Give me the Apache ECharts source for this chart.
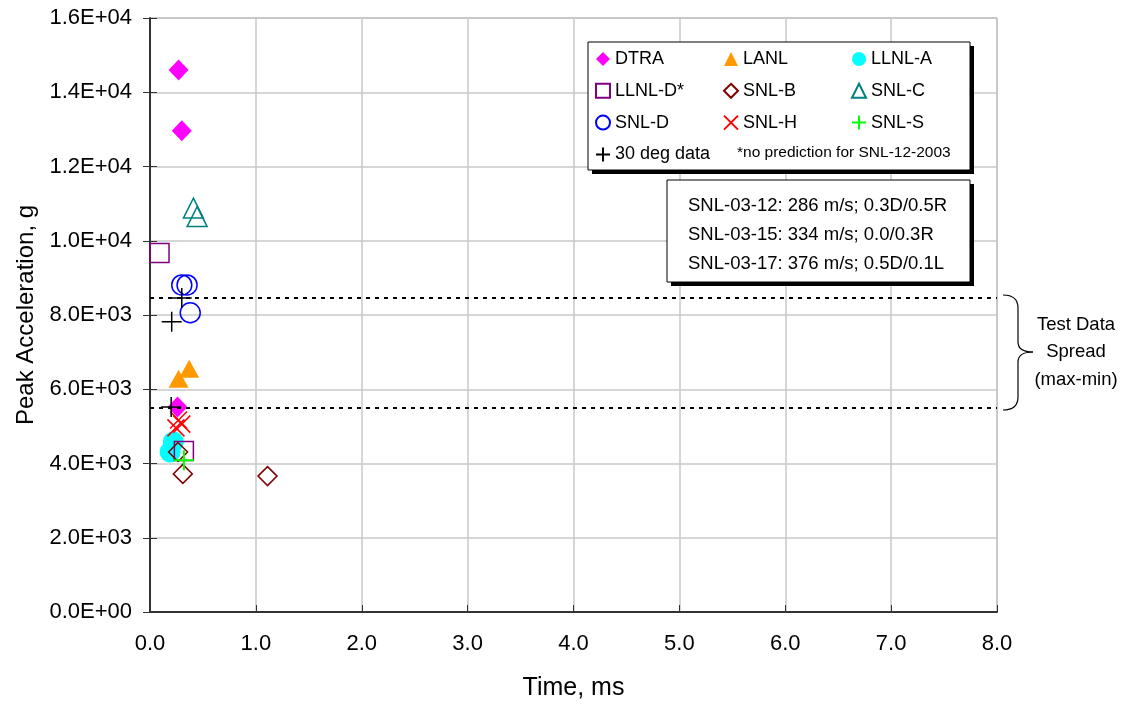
<!DOCTYPE html>
<html>
<head>
<meta charset="utf-8">
<script src="https://cdn.jsdelivr.net/npm/echarts@6/dist/echarts.min.js"></script>
<style>
  html, body { margin: 0; padding: 0; background: #fff; }
  #chart { width: 1122px; height: 704px; }
</style>
</head>
<body>
<div id="chart"></div>
<script>
// time (ms), peak acceleration (g)
const dtra = [[0.27, 14600], [0.30, 12960], [0.26, 5520]]
const lanl = [[0.27, 6280], [0.37, 6550]]
const llnlA = [[0.22, 4580], [0.19, 4310]]
const llnlD = [[0.09, 9670], [0.32, 4340]]
const snlB = [[0.265, 4310], [0.31, 3720], [1.11, 3660]]
const snlC = [[0.41, 10880], [0.445, 10650]]
const snlD = [[0.30, 8810], [0.35, 8810], [0.38, 8060]]
const snlH = [[0.27, 5170], [0.30, 5060], [0.245, 4960]]
const snlS = [[0.32, 4090]]
const deg30 = [[0.30, 8460], [0.205, 7820], [0.20, 5520]]
const spreadLines = [8470, 5510]

const infoLines = [
  'SNL-03-12: 286 m/s; 0.3D/0.5R',
  'SNL-03-15: 334 m/s; 0.0/0.3R',
  'SNL-03-17: 376 m/s; 0.5D/0.1L'
]
const spreadLabel = ['Test Data', 'Spread', '(max-min)']

const FONT = 'Liberation Sans, Arial, sans-serif'
const X_PATH = 'path://M0,0L10,10M10,0L0,10'
const PLUS_PATH = 'path://M5,0L5,10M0,5L10,5'

function filled(color) {
  return { color: color, borderWidth: 0, opacity: 1 }
}
function open(color, w) {
  return { color: 'transparent', borderColor: color, borderWidth: w || 1.5, opacity: 1 }
}

function expLabel(v) {
  if (v === 0) return '0.0E+00'
  const e = Math.floor(Math.log10(v) + 1e-9)
  const m = v / Math.pow(10, e)
  return m.toFixed(1) + 'E+' + String(e).padStart(2, '0')
}

const chart = echarts.init(document.getElementById('chart'))

const legendBase = {
  orient: 'vertical',
  top: 50,
  padding: 0,
  itemGap: 13.8,
  itemWidth: 14,
  itemHeight: 14,
  selectedMode: false,
  z: 10,
  textStyle: { fontFamily: FONT, fontSize: 18, color: '#000' }
}

const axisLineStyle = { color: '#333', width: 2 }
const braceStyle = { fill: 'none', stroke: '#000', lineWidth: 1.2 }

chart.setOption({
  animation: false,
  backgroundColor: '#fff',
  textStyle: { fontFamily: FONT },
  grid: {
    left: 150, right: 125, top: 18, bottom: 92,
    outerBoundsMode: 'none',
    containLabel: false,
    show: true, borderColor: '#8c8c8c', borderWidth: 1
  },
  legend: [
    Object.assign({}, legendBase, { left: 595, data: ['DTRA', 'LLNL-D*', 'SNL-D', '30 deg data'] }),
    Object.assign({}, legendBase, { left: 723, data: ['LANL', 'SNL-B', 'SNL-H'] }),
    Object.assign({}, legendBase, { left: 851, data: ['LLNL-A', 'SNL-C', 'SNL-S'] })
  ],
  xAxis: {
    type: 'value',
    min: 0, max: 8, interval: 1,
    name: 'Time, ms',
    nameLocation: 'middle',
    nameGap: 64,
    nameTextStyle: { fontFamily: FONT, fontSize: 25, color: '#000' },
    axisLine: { onZero: false, lineStyle: axisLineStyle },
    axisTick: { inside: true, length: 7, lineStyle: { color: '#333' } },
    axisLabel: { fontFamily: FONT, fontSize: 22, color: '#000', margin: 21, formatter: v => v.toFixed(1) },
    splitLine: { show: true, lineStyle: { color: '#c8c8c8', width: 1.5 } }
  },
  yAxis: [
    {
      type: 'value',
      min: 0, max: 16000, interval: 2000,
      name: 'Peak Acceleration, g',
      nameLocation: 'middle',
      nameGap: 112,
      nameTextStyle: { fontFamily: FONT, fontSize: 24, color: '#000' },
      axisLine: { onZero: false, lineStyle: axisLineStyle },
      axisTick: { inside: false, length: 7, lineStyle: { color: '#333' } },
      axisLabel: { fontFamily: FONT, fontSize: 22, color: '#000', margin: 18, formatter: expLabel },
      splitLine: { show: true, lineStyle: { color: '#c8c8c8', width: 1.5 } }
    },
    {
      // inner half of the crossing ticks
      type: 'value',
      min: 0, max: 16000, interval: 2000,
      position: 'left',
      offset: 0,
      axisLine: { show: false },
      axisTick: { inside: true, length: 7, lineStyle: { color: '#333' } },
      axisLabel: { show: false },
      splitLine: { show: false }
    }
  ],
  series: [
    { name: 'DTRA', type: 'scatter', data: dtra, symbol: 'diamond', symbolSize: [20, 21], itemStyle: filled('#ff00ff') },
    { name: 'LANL', type: 'scatter', data: lanl, symbol: 'triangle', symbolSize: [20, 18], itemStyle: filled('#ff9900') },
    { name: 'LLNL-A', type: 'scatter', data: llnlA, symbol: 'circle', symbolSize: 21, itemStyle: filled('#00ffff') },
    { name: 'LLNL-D*', type: 'scatter', data: llnlD, symbol: 'rect', symbolSize: 19, itemStyle: open('#800080') },
    { name: 'SNL-B', type: 'scatter', data: snlB, symbol: 'diamond', symbolSize: 19, itemStyle: open('#800000') },
    { name: 'SNL-C', type: 'scatter', data: snlC, symbol: 'triangle', symbolSize: [20, 20], itemStyle: open('#008080') },
    { name: 'SNL-D', type: 'scatter', data: snlD, symbol: 'circle', symbolSize: 20, itemStyle: open('#0000ff') },
    { name: 'SNL-H', type: 'scatter', data: snlH, symbol: X_PATH, symbolSize: 17, itemStyle: open('#ff0000') },
    { name: 'SNL-S', type: 'scatter', data: snlS, symbol: PLUS_PATH, symbolSize: 20, itemStyle: open('#00ff00', 2) },
    {
      name: '30 deg data', type: 'scatter', data: deg30, symbol: PLUS_PATH, symbolSize: 20,
      itemStyle: open('#000000'),
      markLine: {
        silent: true,
        symbol: 'none',
        label: { show: false },
        lineStyle: { color: '#000', type: [4, 5], width: 2, opacity: 1 },
        data: spreadLines.map(v => ({ yAxis: v }))
      }
    }
  ],
  graphic: [
    // legend frame
    { type: 'rect', z: 5, shape: { x: 592, y: 46, width: 382, height: 128 }, style: { fill: '#000' } },
    { type: 'rect', z: 6, shape: { x: 588, y: 42, width: 382, height: 128 }, style: { fill: '#fff', stroke: '#000', lineWidth: 1 } },
    { type: 'text', z: 11, x: 737, y: 145, style: { text: '*no prediction for SNL-12-2003', font: '15.5px ' + FONT, fill: '#000' } },
    // info box
    { type: 'rect', z: 5, shape: { x: 671, y: 184, width: 303, height: 102 }, style: { fill: '#000' } },
    { type: 'rect', z: 6, shape: { x: 667, y: 180, width: 303, height: 102 }, style: { fill: '#fff', stroke: '#000', lineWidth: 1 } },
    {
      type: 'text', z: 11, x: 688, y: 191,
      style: { text: infoLines.join('\n'), font: '18.5px ' + FONT, lineHeight: 29, fill: '#000' }
    },
    // brace
    { type: 'bezierCurve', z: 11, shape: { x1: 1003, y1: 295, cpx1: 1018, cpy1: 295, x2: 1018, y2: 308 }, style: braceStyle },
    { type: 'line', z: 11, shape: { x1: 1018, y1: 308, x2: 1018, y2: 342 }, style: braceStyle },
    { type: 'bezierCurve', z: 11, shape: { x1: 1018, y1: 342, cpx1: 1018, cpy1: 352, x2: 1033, y2: 352 }, style: braceStyle },
    { type: 'bezierCurve', z: 11, shape: { x1: 1033, y1: 352, cpx1: 1018, cpy1: 352, x2: 1018, y2: 362 }, style: braceStyle },
    { type: 'line', z: 11, shape: { x1: 1018, y1: 362, x2: 1018, y2: 397 }, style: braceStyle },
    { type: 'bezierCurve', z: 11, shape: { x1: 1018, y1: 397, cpx1: 1018, cpy1: 410, x2: 1003, y2: 410 }, style: braceStyle },
    {
      type: 'text', z: 11, x: 1076, y: 352,
      style: { text: spreadLabel.join('\n'), font: '18.5px ' + FONT, lineHeight: 27.5, fill: '#000', align: 'center', verticalAlign: 'middle' }
    }
  ]
})
</script>
</body>
</html>
